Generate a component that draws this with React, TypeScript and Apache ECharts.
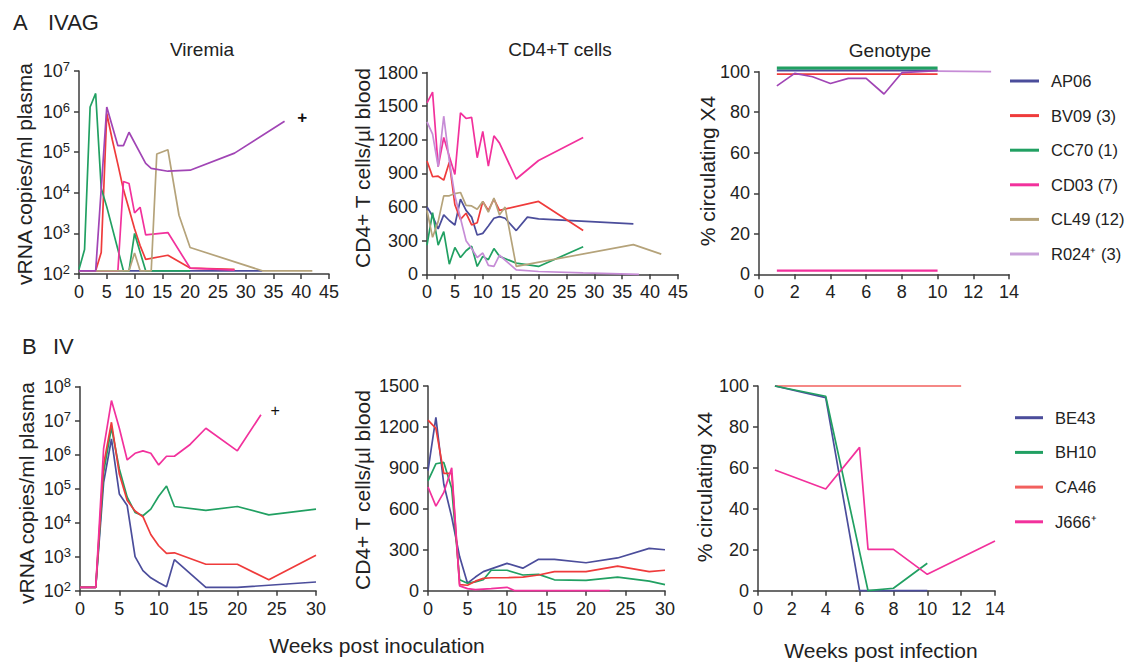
import React, { useEffect, useRef } from 'react';
import * as echarts from 'echarts';

const FONT = '"Liberation Sans", Arial, Helvetica, sans-serif';

// ---------- Panel A (IVAG) ----------
const A_NAMES = ['AP06', 'BV09 (3)', 'CC70 (1)', 'CD03 (7)', 'CL49 (12)', 'R024\u207A (3)'];

// Viremia: [week, vRNA copies/ml]
const aVirAP06: [number, number][] = [[0, 120], [33, 120]];
const aVirBV09: [number, number][] = [[0, 120], [3, 120], [4, 340], [5, 9e5], [6, 2e5], [7, 5e4], [8, 1.2e4], [9, 4e3], [10, 1.3e3], [11, 500], [12, 230], [16, 290], [20, 140], [28, 130]];
const aVirCC70: [number, number][] = [[0, 130], [1, 400], [2, 1.3e6], [3, 2.8e6], [4, 1.3e4], [5, 4.5e3], [8, 120], [9, 120], [10, 1e3], [12, 120], [20, 120]];
const aVirCD03: [number, number][] = [[0, 120], [7, 120], [8, 1.9e4], [9, 1.7e4], [10, 3.2e3], [11, 4.4e3], [12, 920], [16, 1.05e3], [20, 140], [28, 125]];
const aVirCL49: [number, number][] = [[0, 120], [9, 120], [10, 330], [11, 120], [13, 120], [14, 9e4], [16, 1.15e5], [18, 2.8e3], [20, 450], [33, 120], [42, 120]];
const aVirR024: [number, number][] = [[0, 120], [3, 120], [5, 1.3e6], [7, 1.45e5], [8, 1.45e5], [9, 3.1e5], [12, 5.3e4], [13, 4e4], [16, 3.4e4], [20, 3.6e4], [28, 9.5e4], [37, 5.8e5]];
const aVirDeath: [number, number] = [40.2, 7e5];

// CD4+ T cells: [week, cells/µl]
const aCd4AP06: [number, number][] = [[0, 600], [1, 520], [2, 405], [3, 530], [4, 480], [5, 440], [6, 670], [7, 570], [8, 510], [9, 350], [10, 365], [11, 430], [12, 500], [13, 515], [14, 500], [16, 390], [18, 510], [20, 495], [37, 450]];
const aCd4BV09: [number, number][] = [[0, 1010], [1, 870], [2, 875], [3, 840], [4, 1000], [5, 620], [6, 490], [7, 545], [8, 440], [9, 460], [10, 650], [11, 570], [12, 670], [13, 570], [20, 650], [28, 390]];
const aCd4CC70: [number, number][] = [[0, 260], [1, 550], [2, 260], [3, 380], [4, 90], [5, 240], [6, 150], [7, 210], [8, 250], [9, 70], [10, 160], [11, 130], [12, 230], [13, 160], [16, 100], [20, 70], [28, 245]];
const aCd4CD03: [number, number][] = [[0, 1530], [1, 1625], [2, 960], [3, 1220], [4, 1050], [5, 890], [6, 1440], [7, 1390], [8, 1400], [9, 1040], [10, 1275], [11, 965], [12, 1235], [13, 1170], [16, 850], [20, 1015], [28, 1220]];
const aCd4CL49: [number, number][] = [[0, 570], [1, 330], [2, 470], [3, 700], [4, 700], [5, 720], [6, 730], [7, 615], [8, 610], [9, 580], [10, 650], [11, 555], [12, 680], [13, 530], [14, 600], [16, 70], [37, 265], [42, 180]];
const aCd4R024: [number, number][] = [[0, 1360], [1, 1250], [2, 960], [3, 1410], [4, 1010], [5, 700], [6, 500], [7, 300], [8, 230], [9, 150], [10, 190], [11, 80], [12, 70], [13, 170], [16, 40], [20, 25], [28, 12], [38, 0]];

// Genotype: [week, % circulating X4]
const aGenAP06: [number, number][] = [[1, 100.5], [10, 100.5]];
const aGenBV09: [number, number][] = [[1, 98.8], [10, 98.8]];
const aGenCC70: [number, number][] = [[1, 101.8], [10, 101.8]];
const aGenCD03: [number, number][] = [[1, 1.8], [10, 1.8]];
const aGenR024: [number, number][] = [[1, 93], [2, 99.2], [3, 97.5], [4, 94.2], [5, 96.7], [6, 96.7], [7, 89], [8, 99.5], [10, 100.5]];
const aGenR024Late: [number, number][] = [[10, 100.3], [13, 100]];

// ---------- Panel B (IV) ----------
const B_NAMES = ['BE43', 'BH10', 'CA46', 'J666\u207A'];

const bVirBE43: [number, number][] = [[0, 125], [2, 125], [3, 1.5e5], [4, 2.9e6], [5, 7e4], [6, 3.2e4], [7, 1e3], [8, 390], [9, 240], [10, 175], [11, 130], [12, 820], [16, 125], [20, 125], [30, 180]];
const bVirBH10: [number, number][] = [[0, 125], [2, 125], [3, 3e5], [4, 6.3e6], [5, 3.8e5], [6, 5.6e4], [7, 2e4], [8, 1.6e4], [9, 2.5e4], [10, 6e4], [11, 1.2e5], [12, 3e4], [16, 2.3e4], [20, 3e4], [24, 1.7e4], [30, 2.5e4]];
const bVirCA46: [number, number][] = [[0, 125], [2, 125], [3, 5e5], [4, 9e6], [5, 2.7e5], [6, 4.5e4], [7, 2.2e4], [8, 1.5e4], [9, 4.5e3], [10, 2.1e3], [11, 1.25e3], [12, 1.3e3], [16, 600], [20, 600], [24, 210], [30, 1.1e3]];
const bVirJ666: [number, number][] = [[0, 125], [2, 125], [3, 1.5e6], [4, 3.9e7], [5, 6e6], [6, 7e5], [7, 1.1e6], [8, 1.3e6], [9, 1.1e6], [10, 5e5], [11, 9e5], [12, 9e5], [14, 2e6], [16, 6e6], [20, 1.3e6], [23, 1.5e7]];
const bVirDeath: [number, number] = [24.8, 2e7];

const bCd4BE43: [number, number][] = [[0, 880], [1, 1270], [2, 780], [3, 540], [4, 250], [5, 55], [6, 100], [7, 140], [8, 160], [10, 200], [12, 165], [14, 230], [16, 230], [20, 205], [24, 240], [28, 310], [30, 300]];
const bCd4BH10: [number, number][] = [[0, 805], [1, 930], [2, 940], [3, 750], [4, 80], [5, 55], [6, 65], [7, 80], [8, 150], [10, 150], [12, 115], [14, 120], [16, 80], [20, 75], [24, 100], [28, 70], [30, 45]];
const bCd4CA46: [number, number][] = [[0, 1250], [1, 1190], [2, 860], [3, 860], [4, 45], [5, 40], [6, 70], [7, 90], [8, 95], [10, 95], [12, 100], [14, 115], [16, 140], [20, 140], [24, 180], [28, 140], [30, 150]];
const bCd4J666: [number, number][] = [[0, 760], [1, 620], [2, 720], [3, 900], [4, 35], [5, 15], [6, 8], [8, 15], [10, 25], [11, 0], [23, 0]];

const bGenBE43: [number, number][] = [[1, 100], [4, 94.3], [6, 0], [10, 0]];
const bGenBH10: [number, number][] = [[1, 100], [4, 95], [6.5, 0], [8, 1.2], [10, 13.4]];
const bGenCA46: [number, number][] = [[1, 100], [12, 100]];
const bGenJ666: [number, number][] = [[1, 59], [4, 49.7], [6, 70], [6.5, 20.2], [8, 20.2], [10, 8], [14, 24.3]];

const COL = {
  navy: '#4b4d9b',
  red: '#ef3b3b',
  green: '#21a062',
  pink: '#f2319c',
  tan: '#b5a37a',
  purple: '#a145b5',
  lavender: '#c68cd6',
  lavLegend: '#c9a2da',
  salmon: '#f2605e',
};

const AXIS_COLOR = '#3c3c3c';
const TEXT_COLOR = '#222';

function valueAxis(gridIndex: number, min: number, max: number, interval: number) {
  return {
    type: 'value',
    gridIndex,
    min,
    max,
    interval,
    axisLine: { show: true, onZero: false, lineStyle: { color: AXIS_COLOR, width: 1.5 } },
    axisTick: { show: true, length: 5, lineStyle: { color: AXIS_COLOR, width: 1.5 } },
    axisLabel: {
      color: TEXT_COLOR,
      fontSize: 18,
      fontFamily: FONT,
      margin: 9,
      showMaxLabel: true,
      showMinLabel: true,
      formatter: (v: number) => String(v),
    },
    splitLine: { show: false },
  };
}

function logAxis(gridIndex: number, min: number, max: number, split: number) {
  return {
    type: 'log',
    logBase: 10,
    gridIndex,
    min,
    max,
    splitNumber: split,
    axisLine: { show: true, onZero: false, lineStyle: { color: AXIS_COLOR, width: 1.5 } },
    axisTick: { show: true, length: 5, lineStyle: { color: AXIS_COLOR, width: 1.5 } },
    axisLabel: {
      color: TEXT_COLOR,
      fontFamily: FONT,
      margin: 9,
      formatter: (v: number) => `{b|10}{s|${Math.round(Math.log10(v))}}`,
      rich: {
        b: { fontSize: 18, lineHeight: 22, fontFamily: FONT, color: TEXT_COLOR },
        s: { fontSize: 13, lineHeight: 12, verticalAlign: 'top', fontFamily: FONT, color: TEXT_COLOR },
      },
    },
    splitLine: { show: false },
    minorTick: { show: false },
  };
}

function line(name: string, data: [number, number][], idx: number, color: string, extra: any = {}) {
  return {
    type: 'line',
    name,
    data,
    xAxisIndex: idx,
    yAxisIndex: idx,
    symbol: 'none',
    showSymbol: false,
    clip: false,
    lineStyle: { color, width: 1.7 },
    itemStyle: { color },
    emphasis: { disabled: true },
    ...extra,
  };
}

function deathMark(coord: [number, number], bold: boolean) {
  return {
    symbol: 'circle',
    symbolSize: 1,
    itemStyle: { color: 'rgba(0,0,0,0)' },
    label: {
      show: true,
      position: 'inside',
      formatter: '+',
      color: '#111',
      fontSize: bold ? 17 : 16,
      fontWeight: bold ? 'bold' : 'normal',
      fontFamily: FONT,
    },
    data: [{ coord }],
  };
}

function txt(text: string, x: number, y: number, size: number, opts: any = {}) {
  return {
    type: 'text',
    x,
    y,
    rotation: opts.rotation || 0,
    silent: true,
    style: {
      text,
      fill: TEXT_COLOR,
      fontSize: size,
      fontFamily: FONT,
      fontWeight: opts.weight || 'normal',
      textAlign: opts.align || 'center',
      align: opts.align || 'center',
      textVerticalAlign: 'middle',
      verticalAlign: 'middle',
    },
  };
}

function buildOption() {
  const grids = [
    { left: 79, top: 71, width: 250, height: 203 },
    { left: 427, top: 72.5, width: 251, height: 201.8 },
    { left: 759, top: 71.7, width: 250, height: 202.6 },
    { left: 80, top: 386.7, width: 236, height: 204 },
    { left: 428, top: 386, width: 237, height: 204.7 },
    { left: 758, top: 386, width: 237, height: 204.7 },
  ];

  const xAxis = [
    valueAxis(0, 0, 45, 5),
    valueAxis(1, 0, 45, 5),
    valueAxis(2, 0, 14, 2),
    valueAxis(3, 0, 30, 5),
    valueAxis(4, 0, 30, 5),
    valueAxis(5, 0, 14, 2),
  ];
  const yAxis = [
    logAxis(0, 100, 1e7, 5),
    valueAxis(1, 0, 1800, 300),
    valueAxis(2, 0, 100, 20),
    logAxis(3, 100, 1e8, 6),
    valueAxis(4, 0, 1500, 300),
    valueAxis(5, 0, 100, 20),
  ];

  const [nAP06, nBV09, nCC70, nCD03, nCL49, nR024] = A_NAMES;
  const [nBE43, nBH10, nCA46, nJ666] = B_NAMES;

  const series: any[] = [
    // A viremia
    line(nAP06, aVirAP06, 0, COL.navy),
    line(nBV09, aVirBV09, 0, COL.red),
    line(nCC70, aVirCC70, 0, COL.green),
    line(nCD03, aVirCD03, 0, COL.pink),
    line(nCL49, aVirCL49, 0, COL.tan),
    line(nR024, aVirR024, 0, COL.purple, { markPoint: deathMark(aVirDeath, true) }),
    // A CD4
    line(nAP06, aCd4AP06, 1, COL.navy),
    line(nBV09, aCd4BV09, 1, COL.red),
    line(nCC70, aCd4CC70, 1, COL.green),
    line(nCD03, aCd4CD03, 1, COL.pink),
    line(nCL49, aCd4CL49, 1, COL.tan),
    line(nR024, aCd4R024, 1, COL.lavender),
    // A genotype
    line(nCC70, aGenCC70, 2, COL.green, { lineStyle: { color: COL.green, width: 3.2 } }),
    line(nBV09, aGenBV09, 2, COL.red),
    line(nCD03, aGenCD03, 2, COL.pink, { lineStyle: { color: COL.pink, width: 2.2 } }),
    line(nR024, aGenR024Late, 2, COL.lavender),
    line(nAP06, aGenAP06, 2, COL.navy),
    line(nR024, aGenR024, 2, COL.purple),
    // B viremia
    line(nBE43, bVirBE43, 3, COL.navy),
    line(nBH10, bVirBH10, 3, COL.green),
    line(nCA46, bVirCA46, 3, COL.red),
    line(nJ666, bVirJ666, 3, COL.pink, { markPoint: deathMark(bVirDeath, false) }),
    // B CD4
    line(nBE43, bCd4BE43, 4, COL.navy),
    line(nBH10, bCd4BH10, 4, COL.green),
    line(nCA46, bCd4CA46, 4, COL.red),
    line(nJ666, bCd4J666, 4, COL.pink),
    // B genotype
    line(nCA46, bGenCA46, 5, COL.salmon),
    line(nBE43, bGenBE43, 5, COL.navy),
    line(nBH10, bGenBH10, 5, COL.green),
    line(nJ666, bGenJ666, 5, COL.pink),
  ];

  const aLegendColors = [COL.navy, COL.red, COL.green, COL.pink, COL.tan, COL.lavLegend];
  const bLegendColors = [COL.navy, COL.green, COL.salmon, COL.pink];

  const legendCommon = {
    orient: 'vertical',
    padding: 0,
    icon: 'rect',
    itemHeight: 3,
    selectedMode: false,
    textStyle: { fontSize: 16.5, lineHeight: 20, fontFamily: FONT, color: TEXT_COLOR, padding: [0, 0, 0, 7] },
  };

  const legend = [
    {
      ...legendCommon,
      left: 1010,
      top: 71,
      itemWidth: 29,
      itemGap: 14.6,
      data: A_NAMES.map((n, i) => ({ name: n, itemStyle: { color: aLegendColors[i] } })),
    },
    {
      ...legendCommon,
      left: 1015,
      top: 407.7,
      itemWidth: 28,
      itemGap: 14.7,
      data: B_NAMES.map((n, i) => ({ name: n, itemStyle: { color: bLegendColors[i] } })),
    },
  ];

  const graphic = [
    txt('A', 13, 22, 22, { align: 'left' }),
    txt('IVAG', 48, 22, 22, { align: 'left' }),
    txt('B', 22, 346, 22, { align: 'left' }),
    txt('IV', 53, 346, 22, { align: 'left' }),
    txt('Viremia', 202, 49, 19),
    txt('CD4+T cells', 560, 49, 19),
    txt('Genotype', 890, 50, 19),
    txt('vRNA copies/ml plasma', 24, 174, 21, { rotation: Math.PI / 2 }),
    txt('CD4+ T cells/\u00B5l blood', 362, 168, 21, { rotation: Math.PI / 2 }),
    txt('% circulating X4', 707, 171, 21, { rotation: Math.PI / 2 }),
    txt('vRNA copies/ml plasma', 26, 493, 21, { rotation: Math.PI / 2 }),
    txt('CD4+ T cells/\u00B5l blood', 362, 490, 21, { rotation: Math.PI / 2 }),
    txt('% circulating X4', 704, 487, 21, { rotation: Math.PI / 2 }),
    txt('Weeks post inoculation', 377, 645, 21),
    txt('Weeks post infection', 881, 650, 21),
  ];

  return {
    animation: false,
    backgroundColor: '#ffffff',
    textStyle: { fontFamily: FONT },
    grid: grids,
    xAxis,
    yAxis,
    series,
    legend,
    graphic,
  };
}

export default function App() {
  const ref = useRef<HTMLDivElement>(null);
  useEffect(() => {
    if (!ref.current) return;
    const chart = echarts.init(ref.current, undefined, { renderer: 'svg' });
    chart.setOption(buildOption() as any);
    return () => chart.dispose();
  }, []);
  return (
    <div
      ref={ref}
      style={{ position: 'fixed', left: 0, top: 0, width: 1134, height: 663, background: '#fff' }}
    />
  );
}
